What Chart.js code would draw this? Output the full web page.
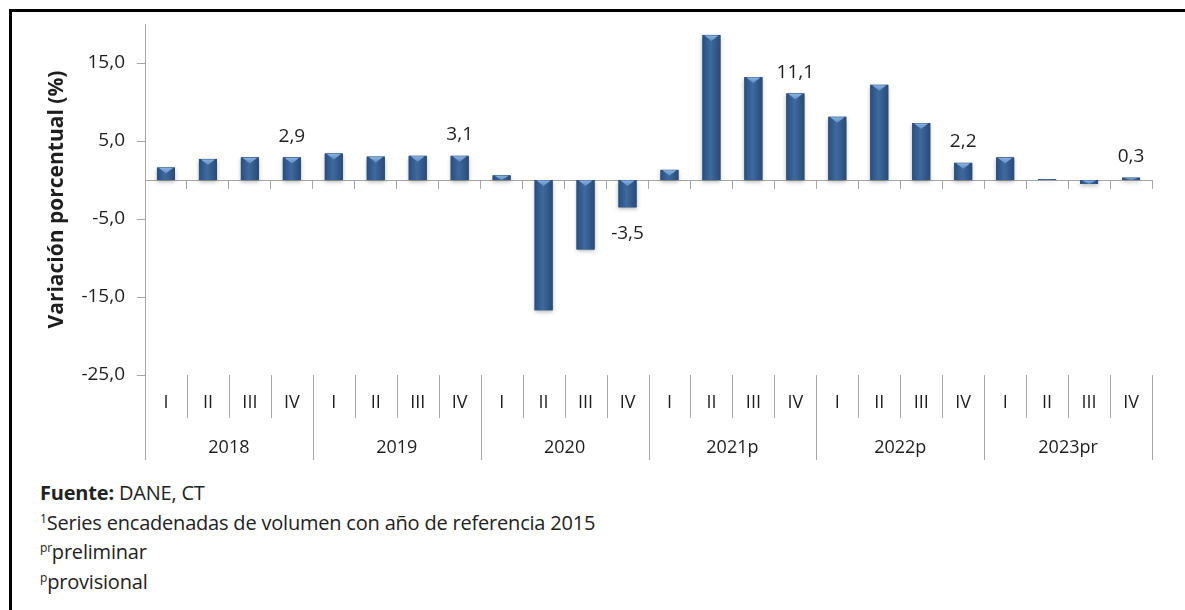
<!DOCTYPE html>
<html>
<head>
<meta charset="utf-8">
<script src="https://cdn.jsdelivr.net/npm/chart.js@4/dist/chart.umd.min.js"></script>
<style>
  body { margin: 0; background: #fff; }
  #wrap { position: relative; width: 1185px; height: 610px; overflow: hidden; font-family: "Open Sans", sans-serif; }
  #frame { position: absolute; left: 9px; top: 9px; width: 1200px; height: 620px; border-left: 3px solid #000; border-top: 3px solid #000; }
  #chart-box { position: absolute; left: 0; top: 0; width: 1185px; height: 470px; }
  #notes { position: absolute; left: 40px; top: 478px; font-size: 20px; line-height: 29.5px; color: #222; letter-spacing: -0.2px; }
  #notes sup { font-size: 12px; vertical-align: 7px; line-height: 0; }
</style>
</head>
<body>
<div id="wrap">
  <div id="frame"></div>
  <div id="chart-box"><canvas id="pib-chart" width="1185" height="470"></canvas></div>
  <div id="notes">
    <div><b>Fuente:</b> DANE, CT</div>
    <div><sup>1</sup>Series encadenadas de volumen con año de referencia 2015</div>
    <div><sup>pr</sup>preliminar</div>
    <div><sup>p</sup>provisional</div>
  </div>
</div>
<script>
const years = ['2018', '2019', '2020', '2021p', '2022p', '2023pr'];
const quarters = ['I', 'II', 'III', 'IV'];
const variation = [
  1.6, 2.7, 2.9, 2.9,
  3.4, 3.0, 3.1, 3.1,
  0.6, -16.7, -8.9, -3.5,
  1.3, 18.6, 13.2, 11.1,
  8.1, 12.2, 7.3, 2.2,
  2.9, 0.1, -0.5, 0.3
];
const labelledIdx = [3, 7, 11, 15, 19, 23];
const yTicks = [-25, -15, -5, 5, 15];

const categories = [];
years.forEach(y => quarters.forEach(q => categories.push(y + ' ' + q)));

const fmt = v => v.toFixed(1).replace('.', ',');
const axisGray = '#a6a6a6';
const textColor = '#1e1e1e';

// gradient body + light wedge at the top of every bar
const barStyle = {
  id: 'barStyle',
  afterDatasetsDraw(chart) {
    const c = chart.ctx;
    chart.getDatasetMeta(0).data.forEach(bar => {
      const {x, y, base, width} = bar.getProps(['x', 'y', 'base', 'width'], true);
      const l = x - width / 2, r = x + width / 2;
      const top = Math.min(y, base), bot = Math.max(y, base);
      const h = bot - top;
      c.save();
      c.shadowColor = 'rgba(0,0,0,0.28)';
      c.shadowBlur = 4;
      c.shadowOffsetY = 2;
      const g = c.createLinearGradient(l, 0, r, 0);
      g.addColorStop(0, '#2a4e7d');
      g.addColorStop(0.45, '#3e6a9f');
      g.addColorStop(1, '#284a78');
      c.fillStyle = g;
      c.fillRect(l, top, width, h);
      c.restore();
      const wh = Math.min(6, h);
      if (wh > 1) {
        c.save();
        const g2 = c.createLinearGradient(0, top, 0, top + wh);
        g2.addColorStop(0, '#8db4e2');
        g2.addColorStop(1, '#5c8cc4');
        c.fillStyle = g2;
        c.beginPath();
        c.moveTo(l + 2, top + 0.5);
        c.lineTo(r - 2, top + 0.5);
        c.lineTo(x, top + wh);
        c.closePath();
        c.fill();
        c.restore();
      }
    });
  }
};

// value labels on the last quarter of each year
const valueLabels = {
  id: 'valueLabels',
  afterDatasetsDraw(chart) {
    const c = chart.ctx;
    const bars = chart.getDatasetMeta(0).data;
    c.save();
    c.font = '19px "Open Sans"';
    c.fillStyle = textColor;
    c.textAlign = 'center';
    c.textBaseline = 'middle';
    labelledIdx.forEach(i => {
      const v = variation[i];
      const bar = bars[i];
      const ty = v >= 0 ? Math.min(bar.y, bar.base) - 21 : Math.max(bar.y, bar.base) + 26;
      c.fillText(fmt(v), bar.x, ty);
    });
    c.restore();
  }
};

// two-level category axis under the plot
const groupAxis = {
  id: 'groupAxis',
  afterDraw(chart) {
    const c = chart.ctx;
    const xs = chart.scales.x;
    const area = chart.chartArea;
    const step = xs.getPixelForValue(1) - xs.getPixelForValue(0);
    const qBottom = area.bottom + 43;
    const yBottom = area.bottom + 85;
    c.save();
    c.strokeStyle = axisGray;
    c.lineWidth = 1;
    for (let i = 0; i <= categories.length; i++) {
      const bx = Math.round(xs.getPixelForValue(i) - step / 2) + 0.5;
      c.beginPath();
      c.moveTo(bx, area.bottom);
      c.lineTo(bx, i % 4 === 0 ? yBottom : qBottom);
      c.stroke();
    }
    c.fillStyle = textColor;
    c.textAlign = 'center';
    c.textBaseline = 'middle';
    c.font = '18px "Open Sans"';
    categories.forEach((cat, i) => {
      c.fillText(quarters[i % 4], xs.getPixelForValue(i), area.bottom + 28);
    });
    years.forEach((yr, k) => {
      const cx = (xs.getPixelForValue(k * 4) + xs.getPixelForValue(k * 4 + 3)) / 2;
      c.fillText(yr, cx, area.bottom + 73);
    });
    c.restore();
  }
};

new Chart(document.getElementById('pib-chart').getContext('2d'), {
  type: 'bar',
  data: {
    labels: categories,
    datasets: [{
      data: variation,
      backgroundColor: '#35608f',
      borderWidth: 0,
      barPercentage: 0.43,
      categoryPercentage: 1
    }]
  },
  options: {
    responsive: false,
    animation: false,
    layout: { padding: { left: 40, right: 33, top: 24, bottom: 95 } },
    plugins: { legend: { display: false }, tooltip: { enabled: false } },
    scales: {
      x: {
        position: { y: 0 },
        offset: true,
        ticks: { display: false },
        grid: { offset: true, drawOnChartArea: false, tickLength: 8, color: axisGray },
        border: { color: axisGray }
      },
      y: {
        min: -25,
        max: 20,
        afterBuildTicks: scale => { scale.ticks = yTicks.map(v => ({ value: v })); },
        afterFit: scale => { scale.width = 105; },
        ticks: {
          callback: v => fmt(v),
          color: textColor,
          font: { family: 'Open Sans', size: 19 },
          padding: 12
        },
        grid: { drawOnChartArea: false, tickLength: 8, color: axisGray },
        border: { color: axisGray },
        title: {
          display: true,
          text: 'Variación porcentual (%)',
          color: textColor,
          font: { family: 'Open Sans', size: 21, weight: 'bold' },
          padding: { top: 4, bottom: 0 }
        }
      }
    }
  },
  plugins: [barStyle, valueLabels, groupAxis]
});
</script>
</body>
</html>
